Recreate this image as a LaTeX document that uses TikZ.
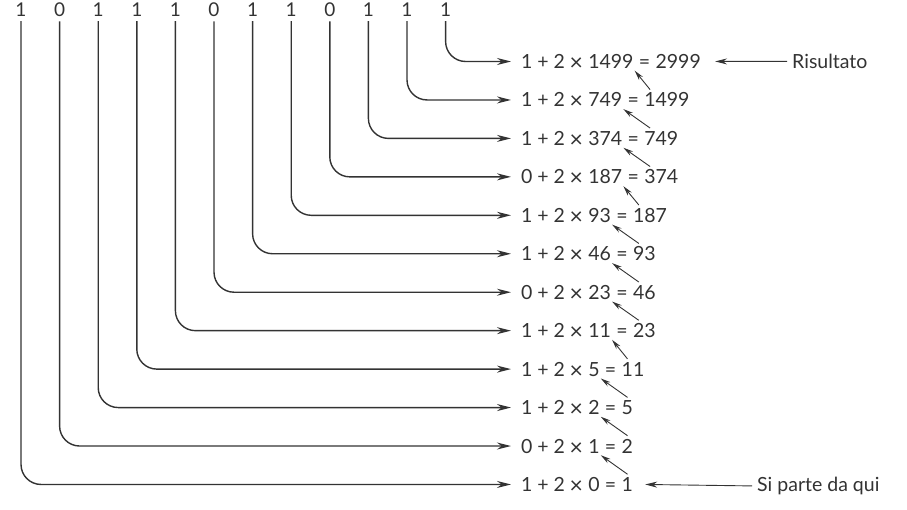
\documentclass[tikz,border=0pt]{standalone}
\usepackage{fontspec}
\setmainfont{Lato}
\usetikzlibrary{arrows.meta}
\definecolor{ink}{HTML}{333333}
\newcommand{\tms}{\raisebox{-2pt}{\fontsize{23}{23}\selectfont ×}}
\tikzset{
  eq/.style={inner sep=0pt, text=ink, font=\fontsize{19.5}{22}\selectfont, anchor=base west},
  digit/.style={inner sep=0pt, text=ink, font=\fontsize{19}{22}\selectfont},
  conn/.style={draw=ink, line width=1.4pt, rounded corners=20pt, -{Stealth[length=14pt,width=7pt]}, shorten >=10pt},
  uparr/.style={draw=ink, line width=0.9pt, -{Stealth[length=10pt,width=5pt]}},
  labarr/.style={draw=ink, line width=0.9pt, -{Stealth[length=12pt,width=6pt]}, shorten <=5pt},
}
\begin{document}
\begin{tikzpicture}[x=1pt,y=-1pt]
\useasboundingbox (0,0) rectangle (907,509);
% top digits
\foreach \j/\d in {1/1,2/0,3/1,4/1,5/1,6/0,7/1,8/1,9/0,10/1,11/1,12/1} {
  \node[digit, anchor=base] (d\j) at ({21+38.6*(\j-1)},16) {\d};
}
% equation rows
\foreach \i/\b/\m/\r in {1/1/1499/2999,2/1/749/1499,3/1/374/749,4/0/187/374,5/1/93/187,6/1/46/93,7/0/23/46,8/1/11/23,9/1/5/11,10/1/2/5,11/0/1/2,12/1/0/1} {
  \node[eq] (b\i) at (521,{68.5+38.45*(\i-1)}) {\b};
  \node[eq] (p\i) at ([xshift=4.5pt]b\i.base east) {+\hspace{5pt}2\hspace{4.5pt}\tms};
  \node[eq] (m\i) at ([xshift=5pt]p\i.base east) {\m};
  \node[eq] (e\i) at ([xshift=5pt]m\i.base east) {=};
  \node[eq] (r\i) at ([xshift=5pt]e\i.base east) {\r};
}
% connectors from digits to rows
\foreach \j in {1,...,12} {
  \pgfmathtruncatemacro\k{13-\j}
  \draw[conn] ([yshift=-5pt]d\j.south) |- (b\k.west);
}
% upward arrows
\foreach \k in {1,...,11} {
  \pgfmathtruncatemacro\n{\k+1}
  \draw[uparr] ([xshift=6pt,yshift=3pt]r\n.north west) -- ([xshift=1pt,yshift=-2pt]m\k.south east);
}
% labels
\node[eq] (ris) at (792,68.5) {Risultato};
\node[eq] (sip) at (757,491.5) {Si parte da qui};
\draw[labarr] (ris.west) -- ([xshift=14pt]r1.east);
\draw[labarr] (sip.west) -- ([xshift=12pt]r12.east);
\end{tikzpicture}
\end{document}
